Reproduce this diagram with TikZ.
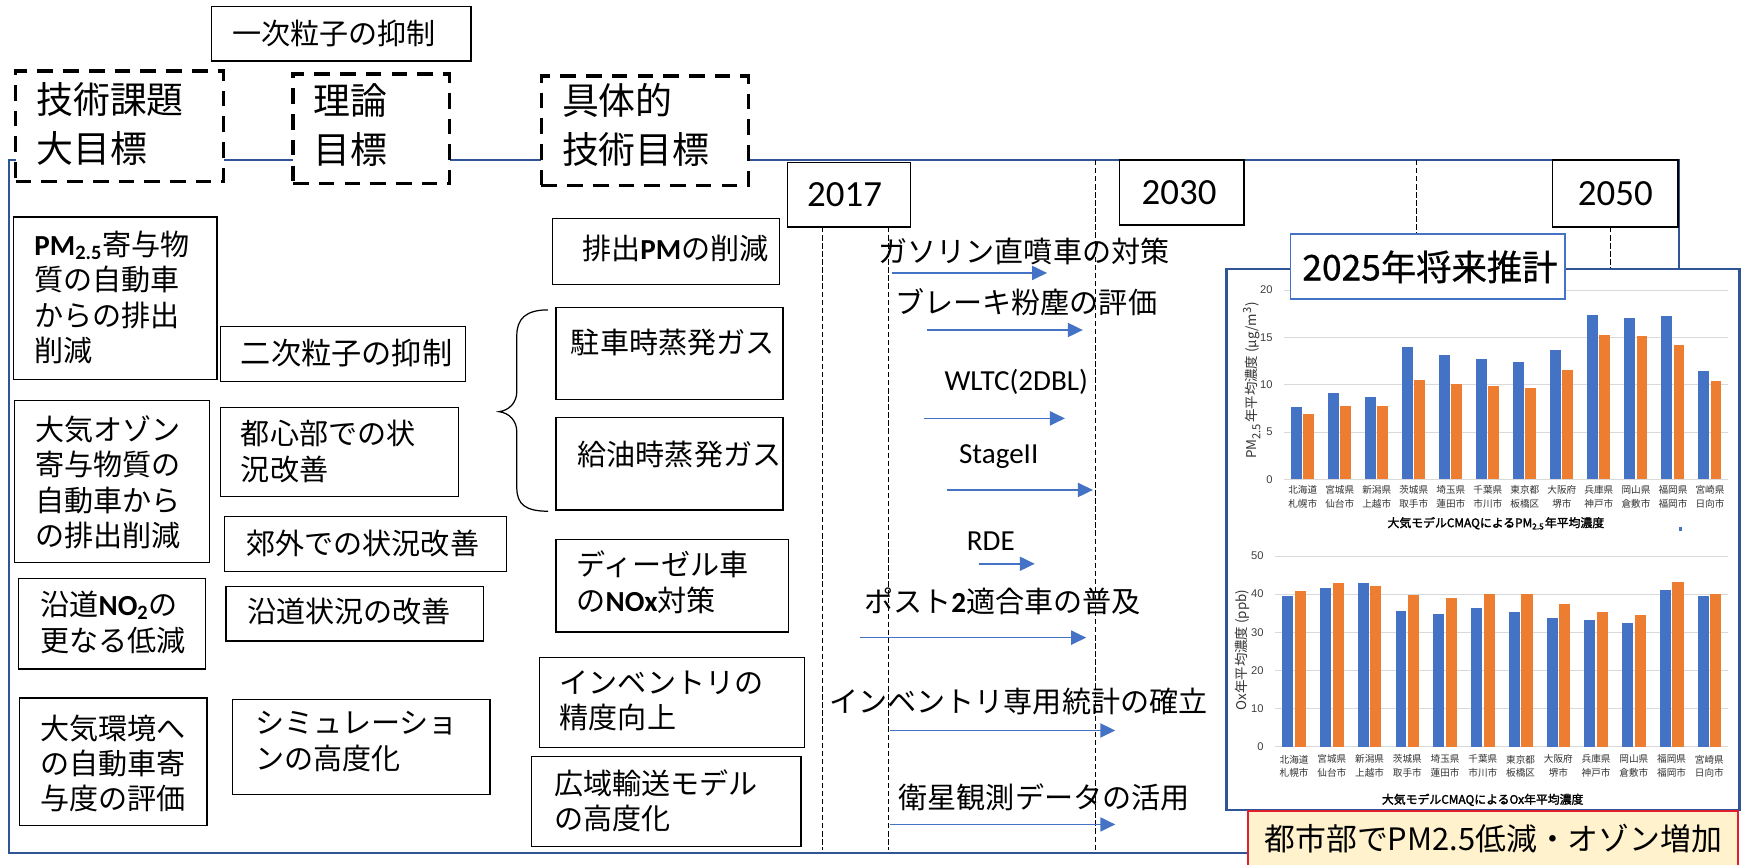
\documentclass[tikz,border=0pt]{standalone}
\usepackage{fontspec}
\setmainfont{Noto Sans CJK JP}
\newfontfamily\carl{Carlito}
\newfontfamily\arl{Liberation Sans}
\newfontfamily\jpb{Noto Sans CJK JP}[FakeBold=2]
\newfontfamily\jpm{Noto Sans CJK JP}[FakeBold=0.8]
\usetikzlibrary{arrows.meta,fit}
\definecolor{frameblue}{RGB}{47,85,151}
\definecolor{arrblue}{RGB}{68,114,196}
\definecolor{barorange}{RGB}{237,125,49}
\definecolor{gridgray}{RGB}{217,217,217}
\definecolor{yel}{RGB}{255,242,204}
\definecolor{redb}{RGB}{224,32,48}
\newcommand\lb[1]{{\carl\bfseries #1}}
\begin{document}
\begin{tikzpicture}[x=0.5pt,y=-0.5pt,
  sbox/.style={draw=black, line width=0.55pt, fill=white, inner sep=0pt},
  dbox/.style={draw=black, line width=1.5pt, dash pattern=on 7pt off 4.5pt, fill=white, inner sep=0pt},
  yrbox/.style={draw=black, line width=0.6pt, fill=white, inner sep=0pt},
  txt/.style={inner sep=0pt, anchor=west, align=left, font=\fontsize{13pt}{15.8pt}\selectfont},
  bigtxt/.style={inner sep=0pt, anchor=west, align=left, font=\fontsize{16.5pt}{22pt}\selectfont},
  yrtxt/.style={inner sep=0pt, font=\carl\fontsize{16.5pt}{18pt}\selectfont},
  vdash/.style={draw=black, line width=0.45pt, dash pattern=on 2.4pt off 1.2pt},
  tarrow/.style={draw=arrblue, line width=0.75pt, -{Triangle[length=6.7pt,width=6.3pt]}},
  frame/.style={draw=frameblue, line width=0.8pt},
  ticklab/.style={inner sep=0pt, anchor=east, font=\arl\fontsize{5pt}{6pt}\selectfont, text=black!75},
  citylab/.style={inner sep=0pt, align=center, font=\fontsize{4.3pt}{6pt}\selectfont, text=black!80},
  ctitle/.style={inner sep=0pt, anchor=west, font=\jpb\fontsize{5.3pt}{6pt}\selectfont},
  axtitle/.style={inner sep=0pt, rotate=90, font=\fontsize{6pt}{7pt}\selectfont, text=black!80}
]
\useasboundingbox (0,0) rectangle (1568,773);
\clip (0,0) rectangle (1568,773);
\fill[white] (0,0) rectangle (1568,773);

% outer blue frame
\coordinate (fTL) at (8.3,143);
\coordinate (fBR) at (1501,762.5);
\draw[frame] (fTL) rectangle (fBR);

% year boxes
\node[yrbox, fit={(703.8,145) (814,203)}] (y17) {};
\node[yrbox, fit={(1001,143) (1112,201)}] (y30) {};
\node[yrbox, fit={(1387.6,143) (1500,203)}] (y50) {};
\node[yrtxt] at (755,174) {2017};
\node[yrtxt] at (1054,172) {2030};
\node[yrtxt] at (1444,173) {2050};

% dashed time lines
\coordinate (v1t) at (735,203); \coordinate (v1b) at (735,760);
\coordinate (v2t) at (794,203); \coordinate (v2b) at (794,760);
\coordinate (v3t) at (979,143); \coordinate (v3b) at (979,760);
\coordinate (v4t) at (1266,143); \coordinate (v4b) at (1266,210);
\coordinate (v5t) at (1440,203); \coordinate (v5b) at (1440,242);
\draw[vdash] (v1t) -- (v1b);
\draw[vdash] (v2t) -- (v2b);
\draw[vdash] (v3t) -- (v3b);
\draw[vdash] (v4t) -- (v4b);
\draw[vdash] (v5t) -- (v5b);

% top boxes
\node[sbox, fit={(189,6) (421,54.5)}] (ichi) {};
\node[txt] at (207,30) {一次粒子の抑制};
\node[dbox, fit={(14,63.5) (200,162)}] (d1) {};
\node[bigtxt] at (32,111) {技術課題\\大目標};
\node[dbox, fit={(262,66) (402,164)}] (d2) {};
\node[bigtxt] at (280,112) {理論\\目標};
\node[dbox, fit={(484,67.8) (669,165.7)}] (d3) {};
\node[bigtxt] at (502,112) {具体的\\技術目標};

% column 1
\node[sbox, fit={(12,194) (194,339)}] (g1) {};
\node[txt] at (30.4,266) {\lb{PM\textsubscript{2.5}}寄与物\\質の自動車\\からの排出\\削減};
\node[sbox, fit={(12.8,358) (187,503)}] (g2) {};
\node[txt] at (31.3,431) {大気オゾン\\寄与物質の\\自動車から\\の排出削減};
\node[sbox, fit={(16.4,517) (184,598)}] (g3) {};
\node[txt] at (35.8,556.4) {沿道\lb{NO\textsubscript{2}}の\\更なる低減};
\node[sbox, fit={(17.3,624) (185,738)}] (g4) {};
\node[txt] at (35.8,682.5) {大気環境へ\\の自動車寄\\与度の評価};

% column 2
\node[sbox, fit={(197,292) (416,341)}] (r1) {};
\node[txt, font=\fontsize{13.5pt}{15.8pt}\selectfont] at (215,315.8) {二次粒子の抑制};
\node[sbox, fit={(197,364) (410,444)}] (r2) {};
\node[txt] at (215,403.7) {都心部での状\\況改善};
\node[sbox, fit={(201,462) (453,511)}] (r3) {};
\node[txt] at (219.9,485.7) {郊外での状況改善};
\node[sbox, fit={(202,524) (432,573)}] (r4) {};
\node[txt] at (220.6,546.8) {沿道状況の改善};
\node[sbox, fit={(208,625) (438,710)}] (r5) {};
\node[txt] at (228,663) {シミュレーショ\\ンの高度化};

% brace
\draw[line width=0.55pt] (490,277) .. controls (470,277) and (462,285) .. (462,300) -- (462,350)
  .. controls (462,360) and (455,367) .. (446,368) .. controls (455,369) and (462,376) .. (462,386)
  -- (462,436) .. controls (462,451) and (470,457) .. (490,457);

% column 3
\node[sbox, fit={(494,195) (697,254)}] (k1) {};
\node[txt] at (520,222) {排出\lb{PM}の削減};
\node[sbox, fit={(497,275) (700,357)}] (k2) {};
\node[txt] at (510,306) {駐車時蒸発ガス};
\node[sbox, fit={(497,373) (700,456)}] (k3) {};
\node[txt] at (516,406) {給油時蒸発ガス};
\node[sbox, fit={(497,482) (705,565)}] (k4) {};
\node[txt] at (515,520.5) {ディーゼル車\\の\lb{NOx}対策};
\node[sbox, fit={(482,588) (719,668)}] (k5) {};
\node[txt] at (500,626.5) {インベントリの\\精度向上};
\node[sbox, fit={(475,676) (716,757)}] (k6) {};
\node[txt] at (495,716) {広域輸送モデル\\の高度化};

% timeline items
\node[txt] (t1) at (785,225) {ガソリン直噴車の対策};
\coordinate (a1s) at (797,244); \coordinate (a1e) at (936,244);
\draw[tarrow] (a1s) -- (a1e);
\node[txt] (t2) at (800,270) {ブレーキ粉塵の評価};
\coordinate (a2s) at (829,295); \coordinate (a2e) at (968,295);
\draw[tarrow] (a2s) -- (a2e);
\node[txt, font=\carl\fontsize{13pt}{15pt}\selectfont] (t3) at (844,341) {WLTC(2DBL)};
\coordinate (a3s) at (826,374); \coordinate (a3e) at (952,374);
\draw[tarrow] (a3s) -- (a3e);
\node[txt, font=\carl\fontsize{13pt}{15pt}\selectfont] (t4) at (857,408) {StageII};
\coordinate (a4s) at (847,438); \coordinate (a4e) at (977,438);
\draw[tarrow] (a4s) -- (a4e);
\node[txt, font=\carl\fontsize{13pt}{15pt}\selectfont] (t5) at (864,484) {RDE};
\coordinate (a5s) at (875,504); \coordinate (a5e) at (925,504);
\draw[tarrow] (a5s) -- (a5e);
\node[txt] (t6) at (772,538) {ポスト\lb{2}適合車の普及};
\coordinate (a6s) at (769,570); \coordinate (a6e) at (971,570);
\draw[tarrow] (a6s) -- (a6e);
\node[txt] (t7) at (741,627) {インベントリ専用統計の確立};
\coordinate (a7s) at (796,653); \coordinate (a7e) at (997,653);
\draw[tarrow] (a7s) -- (a7e);
\node[txt] (t8) at (803,713) {衛星観測データの活用};
\coordinate (a8s) at (796,737); \coordinate (a8e) at (997,737);
\draw[tarrow] (a8s) -- (a8e);

% chart frame
\node[draw=frameblue, line width=1.2pt, fill=white, inner sep=0pt, fit={(1096.5,240.5) (1555,724)}] (chart) {};

% PM2.5 chart
\foreach \v in {0,5,10,15,20} {
  \draw[gridgray, line width=0.4pt] (1148,{428.5-8.46*\v}) -- (1545,{428.5-8.46*\v});
  \node[ticklab] at (1138,{428.5-8.46*\v}) {\v};
}
\foreach \b/\o [count=\i from 0] in {7.6/6.9, 9.1/7.7, 8.7/7.7, 14.0/10.5, 13.1/10.1, 12.7/9.9, 12.4/9.6, 13.7/11.6, 17.4/15.2, 17.1/15.1, 17.3/14.2, 11.5/10.4} {
  \pgfmathsetmacro\c{1148+33.1*(\i+0.5)}
  \fill[arrblue] ({\c-10.5},428.5) rectangle ({\c-0.9},{428.5-8.46*\b});
  \fill[barorange] ({\c+0.5},428.5) rectangle ({\c+10.1},{428.5-8.46*\o});
}
\foreach \p/\q [count=\i from 0] in {北海道/札幌市, 宮城県/仙台市, 新潟県/上越市, 茨城県/取手市, 埼玉県/蓮田市, 千葉県/市川市, 東京都/板橋区, 大阪府/堺市, 兵庫県/神戸市, 岡山県/倉敷市, 福岡県/福岡市, 宮崎県/日向市} {
  \pgfmathsetmacro\c{1148+33.1*(\i+0.5)}
  \node[citylab] at (\c,438) {\p};
  \node[citylab] at (\c,450.6) {\q};
}
\node[axtitle] at (1119,340) {PM\textsubscript{2.5}年平均濃度 (μg/m\textsuperscript{3})};
\node[ctitle] at (1240,467.8) {大気モデルCMAQによるPM\textsubscript{2.5}年平均濃度};
\fill[arrblue] (1501,471) rectangle (1503.5,475);

% Ox chart
\foreach \v in {0,10,20,30,40,50} {
  \draw[gridgray, line width=0.4pt] (1140,{667.5-3.41*\v}) -- (1545,{667.5-3.41*\v});
  \node[ticklab] at (1130,{667.5-3.41*\v}) {\v};
}
\foreach \b/\o [count=\i from 0] in {39.5/40.7, 41.7/42.8, 42.9/42.2, 35.7/39.7, 34.7/38.9, 36.4/40.1, 35.3/40.1, 33.7/37.5, 33.2/35.3, 32.4/34.5, 41.2/43.3, 39.6/40.0} {
  \pgfmathsetmacro\c{1140+33.75*(\i+0.5)}
  \fill[arrblue] ({\c-10.6},667.5) rectangle ({\c-0.8},{667.5-3.41*\b});
  \fill[barorange] ({\c+0.7},667.5) rectangle ({\c+10.6},{667.5-3.41*\o});
}
\foreach \p/\q [count=\i from 0] in {北海道/札幌市, 宮城県/仙台市, 新潟県/上越市, 茨城県/取手市, 埼玉県/蓮田市, 千葉県/市川市, 東京都/板橋区, 大阪府/堺市, 兵庫県/神戸市, 岡山県/倉敷市, 福岡県/福岡市, 宮崎県/日向市} {
  \pgfmathsetmacro\c{1140+33.75*(\i+0.5)}
  \node[citylab] at (\c,678.8) {\p};
  \node[citylab] at (\c,690.7) {\q};
}
\node[axtitle] at (1111,581) {Ox年平均濃度 (ppb)};
\node[ctitle] at (1235,715) {大気モデルCMAQによるOx年平均濃度};

% 2025 box
\node[draw=arrblue, line width=0.8pt, fill=white, inner sep=0pt, fit={(1153.7,209.5) (1399,267.6)}] (est) {};
\node[inner sep=0pt, font=\jpm\fontsize{15.8pt}{18pt}\selectfont] at ([xshift=1pt]est.center) {2025年将来推計};

% conclusion box
\node[draw=redb, line width=0.9pt, fill=yel, inner sep=0pt, fit={(1115.3,724.7) (1554,776)}] (concl) {};
\node[inner sep=0pt, font=\fontsize{13.8pt}{16pt}\selectfont] at (1335,750) {都市部でPM2.5低減・オゾン増加};
\end{tikzpicture}
\end{document}
